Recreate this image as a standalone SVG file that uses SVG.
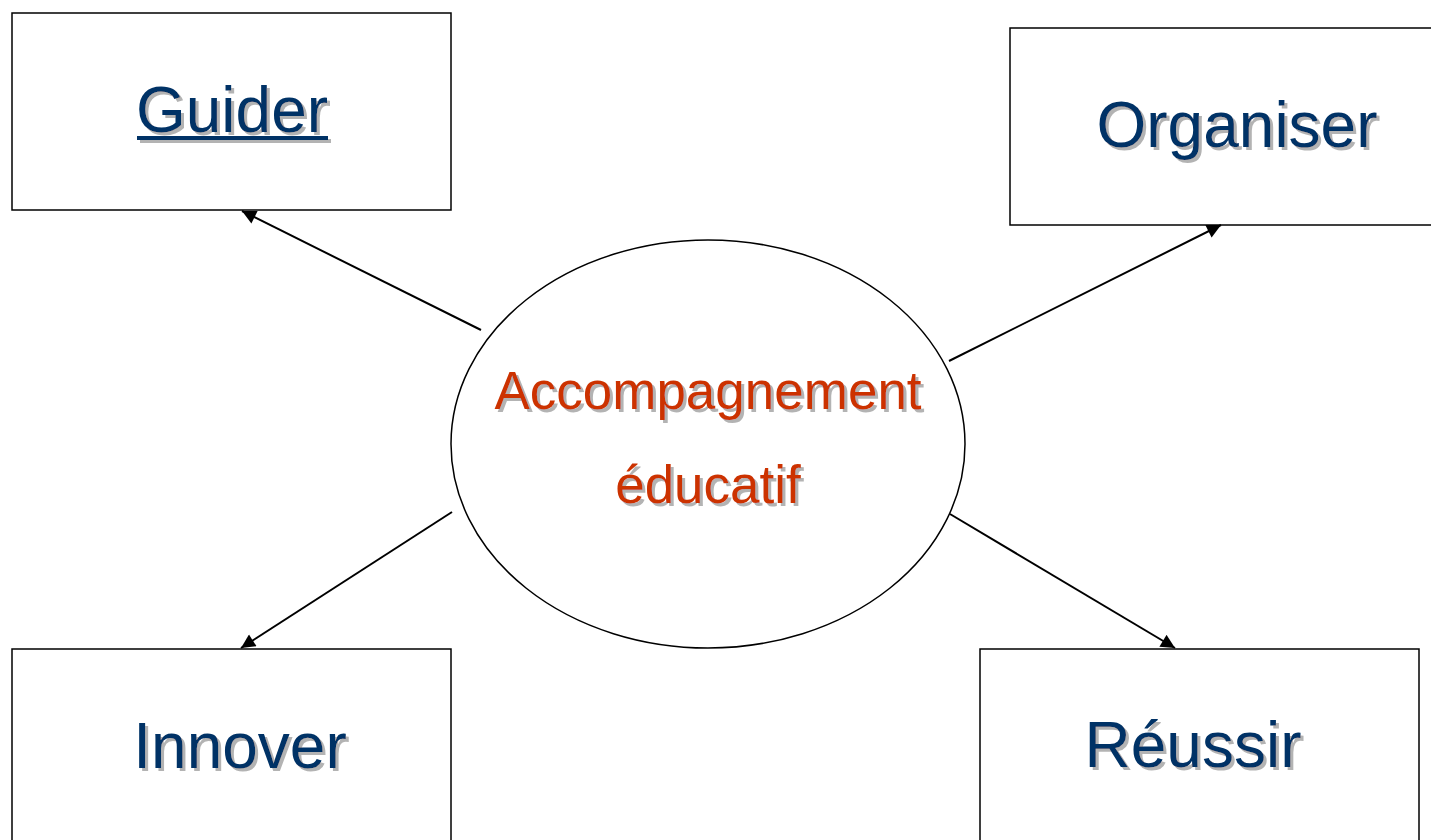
<svg xmlns="http://www.w3.org/2000/svg" width="1431" height="840" viewBox="0 0 1431 840">
<style>
.box{fill:#fff;stroke:#000;stroke-width:1.5}
.lbl{font-family:"Liberation Sans",Arial,sans-serif;font-size:64px;text-anchor:middle;fill:#003366;filter:url(#ds)}
.ctr{font-family:"Liberation Sans",Arial,sans-serif;font-size:53px;text-anchor:middle;fill:#CC3300;filter:url(#ds)}
.con{stroke:#000;stroke-width:2;fill:none;marker-end:url(#ah)}
</style>
<defs>
<filter id="ds" x="-10%" y="-20%" width="130%" height="150%">
<feDropShadow dx="3" dy="3" stdDeviation="0.6" flood-color="#a0a0a0" flood-opacity="0.8"/>
</filter>
<marker id="ah" viewBox="0 0 10 10" refX="10" refY="5" markerWidth="8" markerHeight="7" markerUnits="strokeWidth" orient="auto">
<path d="M0,0 L10,5 L0,10 Z" fill="#000"/>
</marker>
</defs>
<rect width="1431" height="840" fill="#fff"/>
<g id="guider">
<rect class="box" x="12" y="13" width="439" height="197"/>
<g filter="url(#ds)">
<text class="lbl" x="232" y="132" style="filter:none">Guider</text>
<rect x="137" y="136" width="191" height="4" fill="#003366"/>
</g>
</g>
<g id="organiser">
<rect class="box" x="1010" y="28" width="430" height="197"/>
<text class="lbl" x="1237" y="147">Organiser</text>
</g>
<g id="innover">
<rect class="box" x="12" y="649" width="439" height="200"/>
<text class="lbl" x="240" y="768">Innover</text>
</g>
<g id="reussir">
<rect class="box" x="980" y="649" width="439" height="200"/>
<text class="lbl" x="1193" y="767">Réussir</text>
</g>
<g id="accompagnement">
<ellipse cx="708" cy="444" rx="257" ry="204" fill="#fff" stroke="#000" stroke-width="1.5"/>
<text class="ctr" x="708" y="409">Accompagnement</text>
<text class="ctr" x="708" y="503">éducatif</text>
</g>
<g id="connectors">
<line class="con" x1="481" y1="330" x2="242" y2="211"/>
<line class="con" x1="949" y1="361" x2="1221" y2="225"/>
<line class="con" x1="452" y1="512" x2="241" y2="648"/>
<line class="con" x1="950" y1="514" x2="1175" y2="648"/>
</g>
</svg>
